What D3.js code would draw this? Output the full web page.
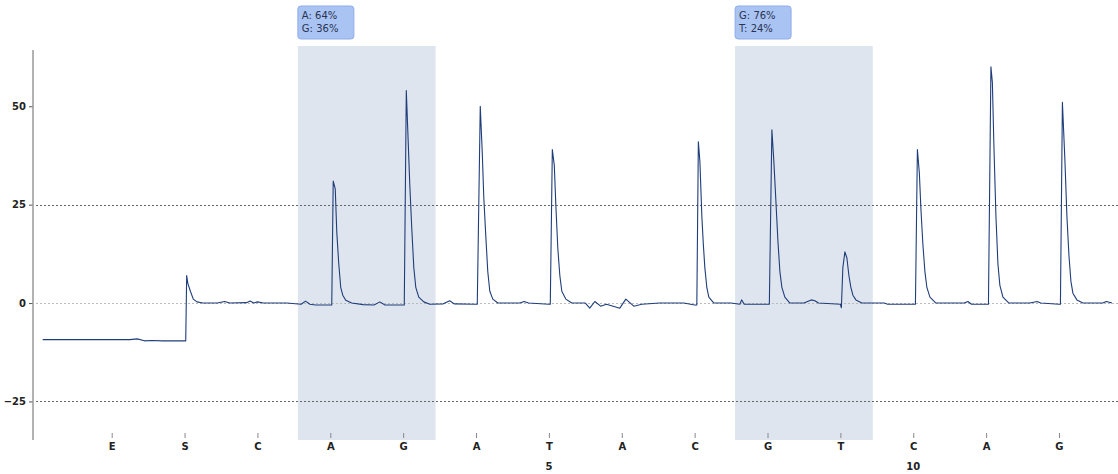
<!DOCTYPE html>
<html>
<head>
<meta charset="utf-8">
<script src="https://cdn.jsdelivr.net/npm/d3@7"></script>
<style>
  html, body { margin: 0; padding: 0; background: #fff; }
  #chart { width: 1118px; height: 474px; }
  text { font-family: "DejaVu Sans", sans-serif; }
</style>
</head>
<body>
<div id="chart"></div>
<script>
//
// Pyrogram data
//
const dispensations = ['E', 'S', 'C', 'A', 'G', 'A', 'T', 'A', 'C', 'G', 'T', 'C', 'A', 'G']
const positionLabels = [{ index: 6, label: '5' }, { index: 11, label: '10' }]
const yTicks = [-25, 0, 25, 50]
const gridValues = [-25, 0, 25]
const variableRegions = [
  { from: 3, to: 4, lines: ['A: 64%', 'G: 36%'] },
  { from: 9, to: 10, lines: ['G: 76%', 'T: 24%'] }
]
// signal trace, [dispensation position, signal]
const trace = [
  [-0.947, -9.3], [-0.3, -9.3], [0.25, -9.3], [0.35, -9.1], [0.45, -9.6], [0.55, -9.5], [0.7, -9.6], [0.95, -9.6],
  [1.016, -9.6], [1.029, 7], [1.045, 5], [1.08, 3], [1.12, 1], [1.17, 0.3], [1.25, 0],
  [1.45, 0], [1.55, 0.4], [1.62, 0], [1.85, 0.1], [1.9, 0.5], [1.95, 0], [2.0, 0.3], [2.08, 0],
  [2.4, 0], [2.6, -0.3], [2.66, 0.5], [2.72, -0.3], [2.8, -0.5], [3.0, -0.5],
  [3.02, -0.5], [3.04, 31], [3.068, 29], [3.089, 18], [3.116, 10], [3.143, 4], [3.171, 2], [3.212, 0.7], [3.294, 0],
  [3.45, -0.4], [3.6, -0.5], [3.68, 0.3], [3.75, -0.5], [4.0, -0.5],
  [4.015, -0.5], [4.043, 54], [4.063, 44], [4.091, 30], [4.118, 19], [4.146, 9], [4.173, 4], [4.214, 1.5], [4.283, 0.3],
  [4.365, -0.3], [4.55, -0.2], [4.64, 0.6], [4.7, -0.2], [5.0, -0.3],
  [5.017, -0.3], [5.058, 50], [5.086, 38], [5.106, 27], [5.134, 17], [5.161, 8], [5.189, 3], [5.23, 1], [5.299, 0],
  [5.6, 0], [5.66, 0.4], [5.72, 0], [6.0, -0.3],
  [6.019, -0.3], [6.047, 39], [6.074, 35], [6.095, 25], [6.122, 14], [6.15, 7], [6.177, 3], [6.232, 1], [6.314, 0],
  [6.5, 0], [6.561, -1.3], [6.63, 0.4], [6.71, -0.8], [6.79, -0.3], [6.973, -1.3], [7.056, 1], [7.165, -0.8], [7.275, -0.3],
  [7.52, 0], [7.85, 0], [8.0, -0.5],
  [8.03, -0.5], [8.051, 41], [8.072, 36], [8.099, 22], [8.119, 15], [8.14, 9], [8.167, 4], [8.195, 1.5], [8.264, 0],
  [8.5, 0], [8.62, -0.3], [8.645, 0.8], [8.68, -0.3], [9.0, -0.3],
  [9.025, -0.3], [9.06, 44], [9.087, 36], [9.115, 26], [9.142, 16], [9.17, 8], [9.197, 4], [9.238, 1.5], [9.307, 0],
  [9.5, 0], [9.6, 0.8], [9.65, 0.6], [9.7, 0], [10.0, -0.3],
  [10.014, -1.2], [10.034, 9], [10.062, 13], [10.089, 11.5], [10.117, 7], [10.144, 4], [10.172, 2], [10.213, 0.8], [10.295, 0],
  [10.6, 0], [10.65, -0.3], [11.0, -0.3],
  [11.03, -0.3], [11.057, 39], [11.084, 33], [11.105, 24], [11.132, 15], [11.16, 8], [11.187, 4], [11.229, 1.5], [11.311, 0],
  [11.7, 0], [11.75, 0.4], [11.8, -0.3], [12.0, -0.3],
  [12.032, -0.3], [12.066, 60], [12.086, 56], [12.107, 40], [12.135, 22], [12.162, 10], [12.189, 4.5], [12.231, 1.5], [12.313, 0],
  [12.6, 0], [12.7, 0.4], [12.75, 0], [13.0, -0.3],
  [13.02, -0.3], [13.047, 51], [13.061, 45], [13.082, 36], [13.109, 22], [13.137, 12], [13.164, 5.5], [13.191, 2.5], [13.246, 0.8], [13.329, 0],
  [13.6, 0], [13.65, 0.4], [13.727, 0]
]

//
// Layout
//
const width = 1118
const height = 474
const plot = { left: 33, right: 1118, top: 50, bottom: 440 }

const svg = d3.select('#chart')
  .append('svg')
  .attr('width', width)
  .attr('height', height)

const x = d3.scaleLinear().domain([-1.08, 13.81]).range([plot.left, plot.right])
const y = d3.scaleLinear().domain([-34.8, 64.3]).range([plot.bottom, plot.top])

// shaded variable positions
const regionPad = 0.445
const regions = svg.append('g')
regions.selectAll('rect.region')
  .data(variableRegions)
  .enter().append('rect')
  .attr('class', 'region')
  .attr('x', d => x(d.from - regionPad))
  .attr('y', 46)
  .attr('width', d => x(d.to + regionPad) - x(d.from - regionPad))
  .attr('height', plot.bottom - 46)
  .attr('fill', '#dfe5ee')

// grid lines
svg.append('g')
  .selectAll('line')
  .data(gridValues)
  .enter().append('line')
  .attr('x1', plot.left + 3)
  .attr('x2', plot.right)
  .attr('y1', d => Math.round(y(d)) + 0.5)
  .attr('y2', d => Math.round(y(d)) + 0.5)
  .attr('stroke', d => d === 0 ? '#bbbbbb' : '#666666')
  .attr('stroke-width', 1)
  .attr('stroke-dasharray', '2,2')

// y axis
const yAxis = d3.axisLeft(y).tickValues(yTicks).tickSize(4).tickPadding(3)
const yg = svg.append('g')
  .attr('transform', 'translate(' + plot.left + ',0)')
  .call(yAxis)
yg.select('.domain').remove()
yg.selectAll('.tick line').attr('stroke', '#555')
yg.selectAll('.tick text')
  .attr('fill', '#222')
  .style('font-size', '10px')
  .style('font-weight', 'bold')
svg.append('line')
  .attr('x1', plot.left).attr('x2', plot.left)
  .attr('y1', plot.top).attr('y2', plot.bottom)
  .attr('stroke', '#999')
  .attr('stroke-width', 1.5)

// x axis, dispensation order
const xAxis = d3.axisBottom(x)
  .tickValues(d3.range(dispensations.length))
  .tickFormat(i => dispensations[i])
  .tickSize(5)
  .tickPadding(5)
const xg = svg.append('g')
  .attr('transform', 'translate(0,' + 433 + ')')
  .call(xAxis)
xg.select('.domain').remove()
xg.selectAll('.tick line').attr('stroke', '#888')
xg.selectAll('.tick text')
  .attr('fill', '#222')
  .style('font-size', '10px')
  .style('font-weight', 'bold')

// sequence position numbers
svg.append('g')
  .selectAll('text')
  .data(positionLabels)
  .enter().append('text')
  .attr('x', d => x(d.index))
  .attr('y', 470)
  .attr('text-anchor', 'middle')
  .attr('fill', '#222')
  .style('font-size', '10px')
  .style('font-weight', 'bold')
  .text(d => d.label)

// signal trace
const line = d3.line()
  .x(d => x(d[0]))
  .y(d => y(d[1]))
svg.append('path')
  .datum(trace)
  .attr('fill', 'none')
  .attr('stroke', '#1f3d7a')
  .attr('stroke-width', 1.1)
  .attr('stroke-linejoin', 'round')
  .attr('d', line)

// allele percentage labels
const labels = svg.append('g')
  .selectAll('g')
  .data(variableRegions)
  .enter().append('g')
  .attr('transform', d => 'translate(' + x(d.from - regionPad) + ',6)')
labels.append('rect')
  .attr('width', 56)
  .attr('height', 33)
  .attr('rx', 3)
  .attr('fill', '#a9c3f3')
  .attr('stroke', '#8fadea')
  .attr('stroke-width', 1)
labels.selectAll('text')
  .data(d => d.lines)
  .enter().append('text')
  .attr('x', 4)
  .attr('y', (d, i) => 13 + i * 13)
  .attr('fill', '#2a3350')
  .style('font-size', '10px')
  .text(d => d)
</script>
</body>
</html>
